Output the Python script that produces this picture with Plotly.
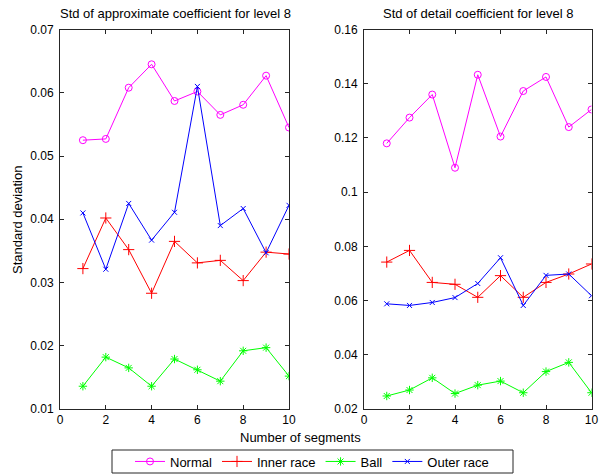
import plotly.graph_objects as go

segments = [1, 2, 3, 4, 5, 6, 7, 8, 9, 10]

# Left: std of approximate coefficient
approx_normal = [0.0525, 0.0527, 0.0608, 0.0645, 0.0587, 0.0602, 0.0565, 0.0581, 0.0627, 0.0545]
approx_inner = [0.0322, 0.0402, 0.0352, 0.0283, 0.0365, 0.0331, 0.0335, 0.0303, 0.0348, 0.0345]
approx_ball = [0.0136, 0.0182, 0.0165, 0.0136, 0.0179, 0.0162, 0.0144, 0.0192, 0.0197, 0.0152]
approx_outer = [0.0410, 0.0321, 0.0425, 0.0367, 0.0411, 0.0610, 0.0390, 0.0417, 0.0347, 0.0422]

# Right: std of detail coefficient
detail_normal = [0.1180, 0.1275, 0.1360, 0.1090, 0.1433, 0.1205, 0.1373, 0.1425, 0.1240, 0.1305]
detail_inner = [0.0742, 0.0785, 0.0667, 0.0660, 0.0612, 0.0692, 0.0612, 0.0667, 0.0698, 0.0735]
detail_ball = [0.0248, 0.0270, 0.0315, 0.0257, 0.0288, 0.0303, 0.0260, 0.0338, 0.0372, 0.0260]
detail_outer = [0.0588, 0.0582, 0.0593, 0.0611, 0.0663, 0.0758, 0.0582, 0.0693, 0.0698, 0.0618]

series_names = ["Normal", "Inner race", "Ball", "Outer race"]
colors = ["#ff00ff", "#ff0000", "#00ff00", "#0000ff"]
symbols = ["circle-open", "cross-thin-open", "asterisk-open", "x-thin-open"]
sizes = [7, 8, 7, 5]

titles = ["Std of approximate coefficient for level 8", "Std of detail coefficient for level 8"]
xlabel = "Number of segments"
ylabel = "Standard deviation"

W, H = 600, 474
FONT = "Liberation Sans, Arial, sans-serif"

fig = go.Figure()

left = [approx_normal, approx_inner, approx_ball, approx_outer]
right = [detail_normal, detail_inner, detail_ball, detail_outer]

for i, name in enumerate(series_names):
    fig.add_trace(go.Scatter(
        x=segments, y=left[i], name=name, mode="lines+markers",
        line=dict(color=colors[i], width=1),
        marker=dict(symbol=symbols[i], size=sizes[i], color=colors[i], line=dict(width=1, color=colors[i])),
        xaxis="x", yaxis="y", showlegend=True))
for i, name in enumerate(series_names):
    fig.add_trace(go.Scatter(
        x=segments, y=right[i], name=name, mode="lines+markers",
        line=dict(color=colors[i], width=1),
        marker=dict(symbol=symbols[i], size=sizes[i], color=colors[i], line=dict(width=1, color=colors[i])),
        xaxis="x2", yaxis="y2", showlegend=False))

ytop = 1 - 29.5 / H
ybot = 1 - 409 / H

axis_common = dict(
    showline=True, linecolor="#262626", linewidth=1, mirror="ticks",
    ticks="inside", ticklen=4, tickcolor="#262626", showgrid=False, zeroline=False,
    tickfont=dict(family=FONT, size=12, color="#000"),
)

fig.update_layout(
    width=W, height=H,
    margin=dict(l=0, r=0, t=0, b=0, autoexpand=False),
    paper_bgcolor="white", plot_bgcolor="white",
    font=dict(family=FONT, size=12, color="#000"),
    xaxis=dict(domain=[60 / W, 289 / W], range=[0, 10], dtick=2, anchor="y", **axis_common),
    yaxis=dict(domain=[ybot, ytop], range=[0.01, 0.07], dtick=0.01, anchor="x",
               ticklabelstandoff=3, **axis_common),
    xaxis2=dict(domain=[364 / W, 591.5 / W], range=[0, 10], dtick=2, anchor="y2", **axis_common),
    yaxis2=dict(domain=[ybot, ytop], range=[0.02, 0.16], dtick=0.02, anchor="x2",
                ticklabelstandoff=3, **axis_common),
    legend=dict(
        orientation="h", x=312 / W, xanchor="center", y=1 - 461.5 / H, yanchor="middle",
        borderwidth=0, bgcolor="rgba(0,0,0,0)",
        font=dict(family=FONT, size=13, color="#000"),
        tracegroupgap=0, itemwidth=30,
    ),
    shapes=[
        dict(type="rect", xref="paper", yref="paper",
             x0=112 / W, x1=513 / W, y0=1 - 473 / H, y1=1 - 450 / H,
             line=dict(color="#262626", width=1), fillcolor="white", layer="below"),
    ],
    annotations=[
        dict(text=titles[0], x=175 / W, y=1 - 13 / H, xref="paper", yref="paper",
             xanchor="center", yanchor="middle",
             showarrow=False, font=dict(family=FONT, size=13)),
        dict(text=titles[1], x=478 / W, y=1 - 13 / H, xref="paper", yref="paper",
             xanchor="center", yanchor="middle",
             showarrow=False, font=dict(family=FONT, size=13)),
        dict(text=xlabel, x=300 / W, y=1 - 437 / H, xref="paper", yref="paper",
             xanchor="center", yanchor="middle",
             showarrow=False, font=dict(family=FONT, size=13)),
        dict(text=ylabel, x=17 / W, y=1 - 220 / H, xref="paper", yref="paper",
             xanchor="center", yanchor="middle",
             showarrow=False, textangle=-90, font=dict(family=FONT, size=13)),
    ],
)

fig.write_html("out.html")
